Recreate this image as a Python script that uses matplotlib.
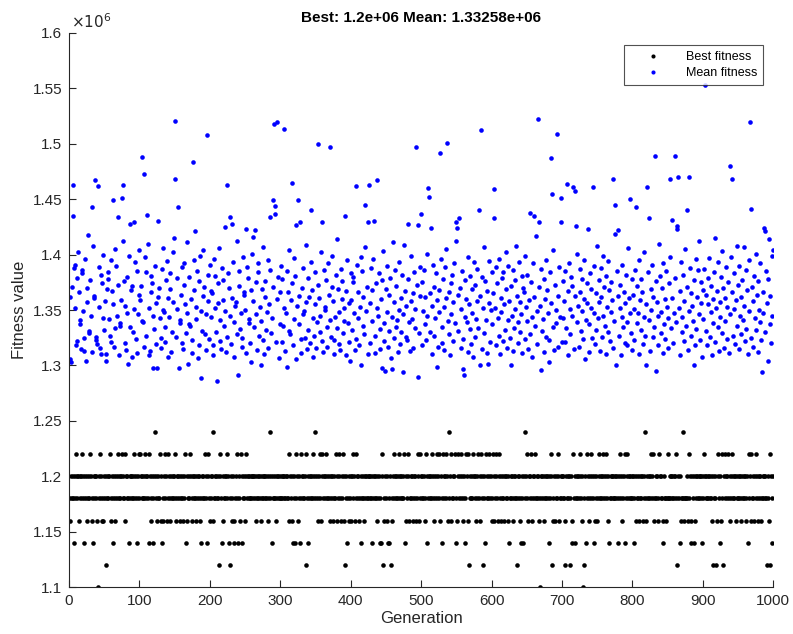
import matplotlib
matplotlib.use("Agg")
import matplotlib.pyplot as plt
import numpy as np

# ---- data -------------------------------------------------------------
# Best fitness per generation, one digit per generation:
# digit d -> BEST_LEVELS[d] (x1e6)
BEST_LEVELS = [1.10, 1.12, 1.14, 1.16, 1.18, 1.20, 1.22, 1.24]
best_codes_0 = "4354542546545345546542545345465342545453045645343545145456435245435456454564543654542545454654524546"
best_codes_1 = "6545454654546254354257453454635243564534653454545463545453454354623545465345454534545342545465425643"
best_codes_2 = "5453745454541564253454564524153452345642543652454356454545454554534545453454545454354752454543545454"
best_codes_3 = "4545454545436545324524653452465454561425454546547545345643564545645453454534546534564354653145243545"
best_codes_4 = "3564534654534254543545454545452454545345242561435453242514354654545465454546235465345453454534653645"
best_codes_5 = "4545346524545465453456454635246545465347563454564236545465345246563145454654534564356451452645456453"
best_codes_6 = "4653456435645345435454352454534545415453425425475463545634545645454305454534545452465143534546534545"
best_codes_7 = "4543154545145326452454546543501452645435645452345345645456454564352454545454542545645345624564545454"
best_codes_8 = "5245345453454534573454545645463454534654543254434644545454545614545234474344543465235452354545454525"
best_codes_9 = "4654545454543154541356425364154654564354564545345454534545453452645634543564534545345454541543165245"

# Mean fitness per generation (in thousands)
mean_0 = [1306,1362,1303,1371,1435,1463,1388,1391,1352,1318,
          1322,1379,1402,1366,1341,1337,1315,1383,1386,1349,
          1313,1325,1396,1304,1370,1357,1418,1331,1329,1377,
          1345,1312,1443,1408,1363,1361,1467,1326,1323,1319,
          1462,1353,1389,1316,1310,1382,1374,1400,1343,1332,
          1358,1304,1310,1369,1384,1378,1342,1327,1321,1395,
          1367,1355,1449,1317,1334,1405,1390,1345,1434,1373,
          1309,1336,1338,1359,1451,1412,1463,1376,1354,1320,
          1314,1380,1347,1301,1399,1428,1335,1368,1372,1308,
          1330,1351,1429,1393,1324,1385,1311,1346,1364,1404]
mean_1 = [1359,1372,1488,1340,1339,1473,1317,1398,1384,1327,
          1436,1410,1352,1309,1313,1366,1381,1374,1345,1298,
          1333,1390,1356,1319,1298,1430,1362,1370,1343,1325,
          1316,1387,1406,1350,1348,1335,1321,1377,1394,1361,
          1308,1344,1369,1383,1312,1330,1357,1402,1415,1468,
          1521,1326,1351,1379,1443,1298,1338,1341,1364,1389,
          1320,1315,1373,1392,1355,1329,1347,1411,1301,1380,
          1337,1336,1360,1311,1323,1484,1368,1395,1421,1342,
          1353,1385,1307,1318,1376,1399,1349,1289,1331,1363,
          1404,1371,1328,1314,1346,1508,1358,1382,1324,1391]
mean_2 = [1344,1367,1365,1318,1309,1396,1381,1352,1330,1286,
          1356,1374,1406,1341,1322,1315,1388,1359,1377,1336,
          1349,1425,1312,1326,1463,1383,1370,1434,1345,1319,
          1428,1361,1393,1339,1308,1354,1357,1412,1328,1291,
          1385,1372,1333,1347,1317,1325,1398,1366,1364,1350,
          1311,1423,1389,1379,1342,1338,1320,1303,1368,1401,
          1416,1358,1335,1422,1375,1346,1314,1384,1392,1327,
          1353,1340,1300,1369,1407,1323,1310,1362,1376,1332,
          1348,1395,1316,1355,1386,1434,1329,1343,1371,1449,
          1518,1444,1437,1321,1360,1520,1380,1307,1337,1366]
mean_3 = [1390,1378,1321,1336,1352,1513,1313,1347,1385,1299,
          1366,1404,1331,1328,1359,1374,1465,1318,1342,1397,
          1381,1427,1306,1354,1449,1363,1337,1429,1324,1311,
          1370,1388,1346,1349,1325,1409,1357,1315,1332,1379,
          1362,1320,1440,1393,1368,1343,1308,1327,1355,1384,
          1316,1339,1373,1500,1361,1345,1330,1402,1429,1322,
          1312,1386,1353,1350,1377,1335,1317,1392,1364,1497,
          1341,1326,1399,1371,1358,1310,1323,1344,1382,1414,
          1334,1369,1319,1348,1314,1387,1360,1376,1329,1340,
          1352,1435,1309,1367,1395,1338,1321,1356,1304,1383]
mean_4 = [1359,1332,1375,1380,1347,1314,1462,1324,1391,1366,
          1343,1318,1353,1300,1398,1385,1336,1362,1328,1407,
          1445,1349,1371,1310,1429,1463,1320,1356,1388,1340,
          1368,1396,1430,1327,1311,1374,1467,1352,1345,1383,
          1315,1333,1360,1298,1377,1403,1338,1322,1295,1369,
          1390,1348,1317,1331,1364,1379,1307,1297,1344,1411,
          1357,1325,1386,1335,1372,1341,1312,1393,1350,1319,
          1330,1361,1382,1294,1346,1409,1367,1326,1354,1323,
          1378,1428,1339,1313,1399,1358,1342,1365,1316,1384,
          1351,1334,1497,1373,1427,1290,1329,1389,1363,1437]
mean_5 = [1318,1375,1349,1386,1362,1337,1323,1401,1345,1460,
          1452,1330,1365,1424,1310,1354,1391,1371,1327,1343,
          1383,1359,1299,1317,1368,1348,1492,1396,1335,1320,
          1378,1353,1314,1389,1361,1405,1501,1340,1328,1366,
          1309,1374,1346,1382,1322,1357,1392,1338,1429,1412,
          1424,1364,1331,1433,1370,1316,1351,1385,1324,1297,
          1291,1344,1377,1360,1339,1312,1398,1355,1381,1333,
          1319,1369,1347,1308,1393,1326,1373,1342,1358,1387,
          1334,1440,1300,1363,1512,1315,1380,1352,1407,1329,
          1376,1341,1311,1367,1301,1356,1394,1321,1350,1384]
mean_6 = [1337,1365,1459,1433,1352,1318,1389,1374,1343,1327,
          1396,1310,1361,1348,1379,1384,1322,1355,1332,1402,
          1369,1316,1341,1390,1358,1325,1372,1300,1345,1386,
          1313,1334,1377,1351,1408,1363,1320,1339,1393,1357,
          1330,1346,1381,1311,1370,1366,1324,1399,1353,1340,
          1382,1315,1359,1438,1328,1375,1344,1308,1392,1435,
          1362,1336,1417,1349,1319,1522,1429,1371,1354,1296,
          1387,1331,1342,1378,1312,1360,1395,1326,1368,1347,
          1323,1303,1384,1356,1487,1455,1335,1404,1314,1373,
          1350,1338,1509,1363,1317,1389,1344,1451,1429,1321]
mean_7 = [1376,1343,1358,1385,1321,1334,1464,1367,1309,1392,
          1351,1328,1380,1372,1345,1461,1315,1363,1457,1426,
          1339,1401,1354,1317,1387,1366,1331,1349,1378,1324,
          1360,1395,1306,1341,1374,1356,1423,1312,1337,1383,
          1352,1369,1325,1461,1390,1347,1319,1365,1332,1408,
          1343,1377,1357,1313,1388,1362,1326,1345,1399,1371,
          1336,1310,1381,1353,1330,1394,1368,1322,1348,1375,
          1359,1316,1468,1340,1419,1445,1300,1385,1363,1422,
          1327,1352,1373,1309,1344,1391,1335,1366,1320,1356,
          1382,1339,1318,1406,1361,1450,1347,1329,1378,1314]
mean_8 = [1364,1351,1323,1386,1443,1338,1372,1347,1310,1395,
          1359,1332,1378,1366,1319,1402,1344,1327,1355,1300,
          1461,1384,1341,1433,1313,1369,1350,1391,1326,1362,
          1335,1489,1295,1376,1357,1318,1345,1410,1381,1329,
          1348,1370,1311,1392,1337,1360,1324,1385,1353,1343,
          1316,1374,1398,1468,1334,1431,1361,1320,1347,1489,
          1379,1339,1426,1423,1470,1352,1309,1367,1393,1330,
          1344,1382,1358,1322,1405,1336,1440,1371,1314,1470,
          1349,1388,1327,1365,1354,1340,1300,1377,1318,1396,
          1333,1362,1386,1346,1412,1323,1356,1375,1308,1368]
mean_9 = [1342,1387,1553,1331,1364,1318,1379,1355,1397,1326,
          1348,1372,1309,1360,1338,1384,1415,1321,1352,1367,
          1335,1393,1313,1357,1344,1380,1329,1403,1370,1316,
          1361,1340,1389,1324,1353,1375,1311,1480,1346,1398,
          1366,1468,1327,1383,1351,1319,1359,1408,1336,1373,
          1315,1390,1345,1362,1328,1377,1341,1407,1354,1322,
          1386,1333,1368,1310,1395,1349,1520,1441,1325,1371,
          1358,1317,1381,1343,1401,1332,1364,1312,1376,1350,
          1339,1392,1323,1294,1366,1347,1424,1421,1330,1385,
          1356,1304,1378,1414,1337,1363,1320,1399,1345,1404]

title_text = "Best: 1.2e+06 Mean: 1.33258e+06"
x_ticks = [0, 100, 200, 300, 400, 500, 600, 700, 800, 900, 1000]
y_tick_labels = ["1.1", "1.15", "1.2", "1.25", "1.3", "1.35", "1.4", "1.45", "1.5", "1.55", "1.6"]

# ---- build series -----------------------------------------------------
best_parts = [best_codes_0, best_codes_1, best_codes_2, best_codes_3, best_codes_4,
              best_codes_5, best_codes_6, best_codes_7, best_codes_8, best_codes_9]
mean_parts = [mean_0, mean_1, mean_2, mean_3, mean_4,
              mean_5, mean_6, mean_7, mean_8, mean_9]
best = np.array([BEST_LEVELS[int(c)] for c in "".join(best_parts)]) * 1e6
mean = np.array(sum(mean_parts, []), dtype=float) * 1e3
gen = np.arange(1, len(best) + 1)

# ---- plot -------------------------------------------------------------
plt.rcParams['font.family'] = ['Liberation Sans', 'DejaVu Sans']
axcol = '#262626'

fig = plt.figure(figsize=(7.93, 6.34), dpi=100)
ax = fig.add_axes([0.087, 0.074, 0.888, 0.874])

ax.plot(gen, best, linestyle='none', marker='o', markersize=3.3,
        markeredgewidth=0, color='black', label='Best fitness')
ax.plot(gen[:len(mean)], mean, linestyle='none', marker='o', markersize=3.3,
        markeredgewidth=0, color='blue', label='Mean fitness')

ax.set_xlim(0, 1000)
ax.set_ylim(1.1e6, 1.6e6)
ax.set_xticks(x_ticks)
ax.set_xticklabels([str(t) for t in x_ticks])
yt = [float(s) * 1e6 for s in y_tick_labels]
ax.set_yticks(yt)
ax.set_yticklabels(y_tick_labels)

for side in ['top', 'right']:
    ax.spines[side].set_visible(False)
for side in ['left', 'bottom']:
    ax.spines[side].set_color(axcol)
    ax.spines[side].set_linewidth(0.8)
ax.tick_params(direction='in', length=5, width=0.8, colors=axcol,
               labelsize=11, labelcolor=axcol, pad=5)

ax.set_xlabel('Generation', fontsize=12, color=axcol, labelpad=2)
ax.set_ylabel('Fitness value', fontsize=12, color=axcol, labelpad=4)
ax.set_title(title_text, fontsize=11, fontweight='bold', color='black', pad=8)
ax.text(0.003, 1.003, r'$\times 10^{6}$', transform=ax.transAxes,
        fontsize=11, color=axcol, ha='left', va='bottom')

leg = ax.legend(loc='upper right', bbox_to_anchor=(0.986, 0.978), borderaxespad=0,
                fontsize=9, frameon=True, fancybox=False, edgecolor=axcol,
                borderpad=0.5, handletextpad=0.8, markerscale=0.9,
                labelspacing=0.3, handlelength=3.6)
leg.get_frame().set_linewidth(0.8)

fig.savefig('out.png', dpi=100)
